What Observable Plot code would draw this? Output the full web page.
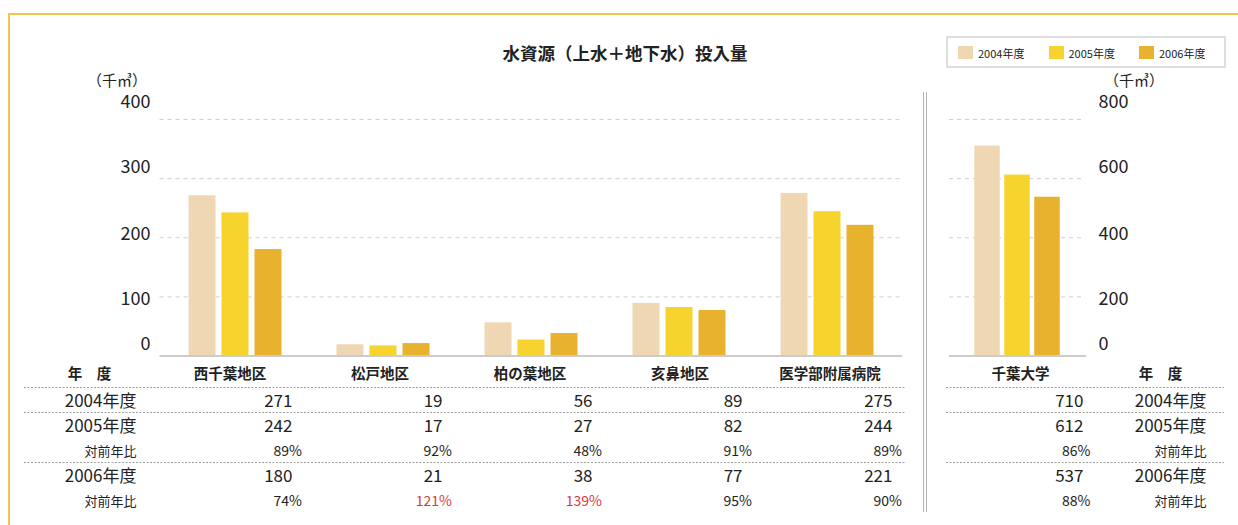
<!DOCTYPE html>
<html><head><meta charset="utf-8">
<script src="https://cdn.jsdelivr.net/npm/d3@7"></script>
<script src="https://cdn.jsdelivr.net/npm/@observablehq/plot@0.6"></script>
<style>
body{margin:0;background:#fff;font-family:"Noto Sans CJK JP","Noto Sans",sans-serif;color:#222;}
#wrap{position:relative;width:1238px;height:525px;overflow:hidden;background:#fff;}
.abs{position:absolute;}
#frame{left:8px;top:12.5px;width:1300px;height:600px;border-top:2.5px solid #efc54e;border-left:2.5px solid #efc54e;}
#title{left:625px;top:44px;transform:translateX(-50%);font-size:17.5px;font-weight:bold;line-height:18px;white-space:nowrap;}
.unit{font-size:15px;line-height:15px;white-space:nowrap;}
#legend{left:946px;top:36px;width:276px;height:28px;border:2px solid #dedede;}
.sw{position:absolute;top:8px;width:15px;height:13px;}
.lt{position:absolute;top:9px;font-size:11px;line-height:12px;white-space:nowrap;}
#sep{left:923px;top:92px;width:2px;height:420px;border-left:1px solid #b4b4b4;border-right:1px solid #b4b4b4;}
</style></head><body><div id="wrap">
<div id="frame" class="abs"></div>
<div id="title" class="abs">水資源（上水＋地下水）投入量</div>
<div class="abs unit" style="left:87px;top:72px;">（千㎥）</div>
<div class="abs unit" style="left:1104px;top:72px;">（千㎥）</div>
<div id="legend" class="abs"></div>
<div id="sep" class="abs"></div>
</div>
<script>
// ---- data ----
const categories = ["西千葉地区", "松戸地区", "柏の葉地区", "亥鼻地区", "医学部附属病院"];
const years = ["2004年度", "2005年度", "2006年度"];
const values2004 = [271, 19, 56, 89, 275];
const values2005 = [242, 17, 27, 82, 244];
const values2006 = [180, 21, 38, 77, 221];
const ratio2005 = [89, 92, 48, 91, 89];
const ratio2006 = [74, 121, 139, 95, 90];
const univCategory = ["千葉大学"];
const univValues = [710, 612, 537];
const univRatios = [86, 88];
const leftTicks = [0, 100, 200, 300, 400];
const rightTicks = [0, 200, 400, 600, 800];
const ratioLabel = "対前年比";
const headerLabel = "年　度";
const colors = ["#f0d7b3", "#f6d32d", "#e8b12e"];

// ---- layout / style ----
const font = '"Noto Sans CJK JP","Noto Sans",sans-serif';
const tickLabelOffsets = [-11.5, 2.5, -4, -11.5, -17];
const red = "#d83a3a";
const wrap = document.getElementById("wrap");
function place(svg, left, top) {
  svg.style.position = "absolute";
  svg.style.left = left + "px";
  svg.style.top = top + "px";
  wrap.appendChild(svg);
}

// legend
const legend = document.getElementById("legend");
years.forEach((y, i) => {
  const s = document.createElement("div");
  s.className = "sw"; s.style.left = (10 + i * 90.5) + "px"; s.style.background = colors[i];
  const t = document.createElement("div");
  t.className = "lt"; t.style.left = (30 + i * 90.5) + "px"; t.textContent = y;
  legend.appendChild(s); legend.appendChild(t);
});

const seriesLeft = [values2004, values2005, values2006];
const barsData = seriesLeft.map(vals => categories.map((c, j) => ({cat: c, v: vals[j]})));
const univBars = univValues.map(v => [{cat: univCategory[0], v}]);

function axisMarks(ticks, opts) {
  return ticks.map((t, i) => Plot.axisY({ticks: [t], tickSize: 0, dy: tickLabelOffsets[i], fontSize: 18, label: null, ...opts}));
}
const gridStyle = {stroke: "#cfcfcf", strokeOpacity: 1, strokeDasharray: "4,4"};

// left bar chart
place(Plot.plot({
  width: 920, height: 370, marginLeft: 159.5, marginRight: 18, marginTop: 119, marginBottom: 14.5,
  x: {type: "band", domain: categories, padding: 0, axis: null},
  y: {domain: [0, 400]},
  style: {background: "transparent", fontFamily: font, color: "#222", overflow: "visible"},
  marks: [
    Plot.gridY({ticks: leftTicks.slice(1), ...gridStyle}),
    ...axisMarks(leftTicks, {tickPadding: 9.5}),
    ...barsData.map((d, i) => Plot.barY(d, {x: "cat", y: "v", fill: colors[i], insetLeft: 60.5, insetRight: 60.5, dx: (i - 1) * 33})),
    Plot.ruleY([0], {stroke: "#cccccc", strokeWidth: 2})
  ]
}), 0, 0);

// right bar chart
place(Plot.plot({
  width: 318, height: 370, marginLeft: 29, marginRight: 157, marginTop: 119, marginBottom: 14.5,
  x: {type: "band", domain: univCategory, padding: 0, axis: null},
  y: {domain: [0, 800]},
  style: {background: "transparent", fontFamily: font, color: "#222", overflow: "visible"},
  marks: [
    Plot.gridY({ticks: rightTicks.slice(1), ...gridStyle}),
    ...axisMarks(rightTicks, {anchor: "right", tickPadding: 17}),
    ...univBars.map((d, i) => Plot.barY(d, {x: "cat", y: "v", fill: colors[i], insetLeft: 53.25, insetRight: 53.25, dx: (i - 1) * 30 + 2})),
    Plot.ruleY([0], {stroke: "#cccccc", strokeWidth: 2, insetRight: -5})
  ]
}), 920, 0);

// tables
const rowKeys = ["hdr", "y2004", "y2005", "r2005", "y2006", "r2006"];
const rowLabels = [
  {row: "y2004", text: years[0], size: 17},
  {row: "y2005", text: years[1], size: 17},
  {row: "r2005", text: ratioLabel, size: 13},
  {row: "y2006", text: years[2], size: 17},
  {row: "r2006", text: ratioLabel, size: 13}
];
const valueRows = [];
const ratioRows = [];
categories.forEach((c, j) => {
  valueRows.push({cat: c, row: "y2004", text: String(values2004[j])});
  valueRows.push({cat: c, row: "y2005", text: String(values2005[j])});
  valueRows.push({cat: c, row: "y2006", text: String(values2006[j])});
  ratioRows.push({cat: c, row: "r2005", r: ratio2005[j]});
  ratioRows.push({cat: c, row: "r2006", r: ratio2006[j]});
});
const univValueRows = ["y2004", "y2005", "y2006"].map((r, i) => ({cat: univCategory[0], row: r, text: String(univValues[i])}));
const univRatioRows = ["r2005", "r2006"].map((r, i) => ({cat: univCategory[0], row: r, r: univRatios[i]}));

const yTable = {type: "point", domain: rowKeys, range: [13, 140], padding: 0, axis: null};
const dotted = Plot.ruleY(["y2004", "y2005", "y2006"], {y: d => d, dy: -12, stroke: "#a0a0a0", strokeDasharray: "2,1.5"});
const tableStyle = {background: "transparent", fontFamily: font, color: "#222", overflow: "visible"};

function rowLabelMarks(anchor, dx) {
  return [
    Plot.text(rowLabels.filter(d => d.size === 17), {y: "row", text: "text", frameAnchor: anchor, dx, dy: 2, textAnchor: "end", fontSize: 17}),
    Plot.text(rowLabels.filter(d => d.size === 13), {y: "row", text: "text", frameAnchor: anchor, dx, dy: 2, textAnchor: "end", fontSize: 13})
  ];
}
function ratioMarks(rows, dx) {
  return [
    Plot.text(rows.filter(d => d.r <= 100), {x: "cat", y: "row", text: d => d.r + "%", dx, dy: 2, textAnchor: "end", fontSize: 14, fill: "#222"}),
    Plot.text(rows.filter(d => d.r > 100), {x: "cat", y: "row", text: d => d.r + "%", dx, dy: 2, textAnchor: "end", fontSize: 14, fill: red})
  ];
}

place(Plot.plot({
  width: 920, height: 165, marginLeft: 24, marginRight: 15, marginTop: 0, marginBottom: 0,
  x: {type: "band", domain: categories, range: [143.5, 895], padding: 0, axis: null},
  y: yTable,
  style: tableStyle,
  marks: [
    dotted,
    Plot.text([headerLabel], {y: () => "hdr", text: d => d, frameAnchor: "left", dx: 65, textAnchor: "middle", fontSize: 14.5, fontWeight: "bold"}),
    Plot.text(categories, {x: d => d, y: () => "hdr", text: d => d, dx: 10.5, fontSize: 14.5, fontWeight: "bold"}),
    ...rowLabelMarks("left", 112),
    Plot.text(valueRows, {x: "cat", y: "row", text: "text", dx: 73, dy: 2, textAnchor: "end", fontSize: 17}),
    ...ratioMarks(ratioRows, 82.5)
  ]
}), 0, 360);

place(Plot.plot({
  width: 318, height: 165, marginLeft: 26, marginRight: 14, marginTop: 0, marginBottom: 0,
  x: {type: "band", domain: univCategory, range: [29, 161], padding: 0, axis: null},
  y: yTable,
  style: tableStyle,
  marks: [
    dotted,
    Plot.text(univCategory, {x: d => d, y: () => "hdr", text: d => d, dx: 5, fontSize: 14.5, fontWeight: "bold"}),
    Plot.text([headerLabel], {y: () => "hdr", text: d => d, frameAnchor: "right", dx: -64, textAnchor: "middle", fontSize: 14.5, fontWeight: "bold"}),
    ...rowLabelMarks("right", -18),
    Plot.text(univValueRows, {x: "cat", y: "row", text: "text", dx: 68, dy: 2, textAnchor: "end", fontSize: 17}),
    ...ratioMarks(univRatioRows, 75)
  ]
}), 920, 360);
</script>
</body></html>
